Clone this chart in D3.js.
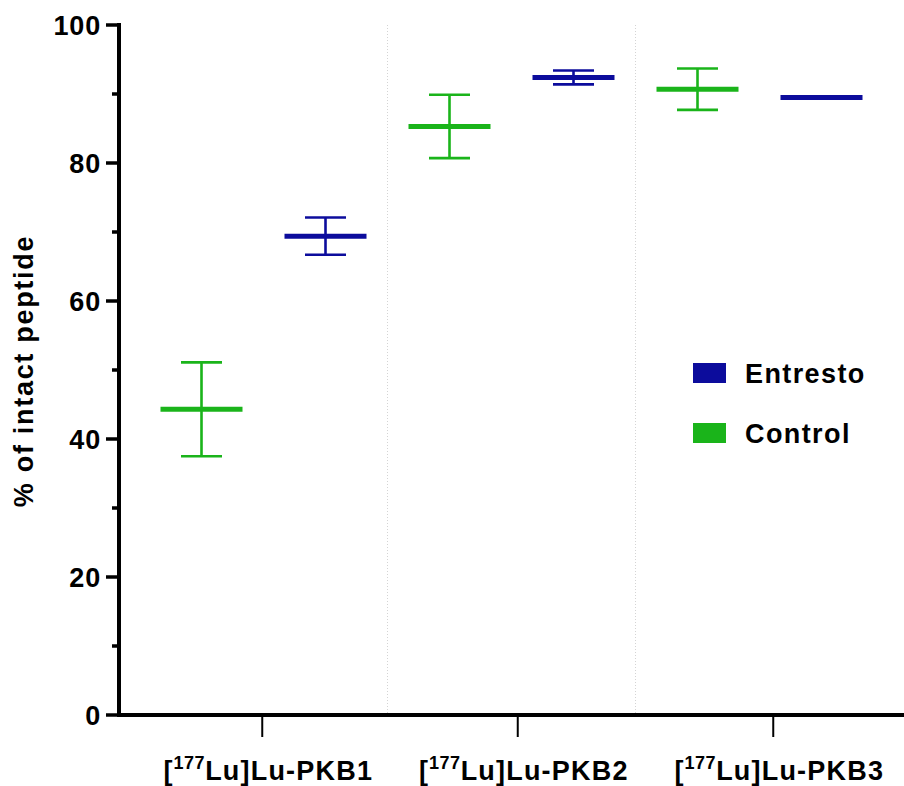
<!DOCTYPE html>
<html>
<head>
<meta charset="utf-8">
<script src="https://cdn.jsdelivr.net/npm/d3@7"></script>
<style>
  html, body { margin: 0; padding: 0; background: #fff; }
  svg { display: block; }
  text { font-family: "Liberation Sans", Arial, Helvetica, sans-serif; font-weight: bold; fill: #000; }
</style>
</head>
<body>
<svg id="chart" width="904" height="786"></svg>
<script>
// ---- data ----
const categories = ["PKB1", "PKB2", "PKB3"];
const labelPrefix = "[", labelSup = "177", labelSuffix = "Lu]Lu-";
const seriesNames = ["Control", "Entresto"];
const controlMean = [44.3, 85.3, 90.7];
const controlSD   = [6.8, 4.6, 3.0];
const entrestoMean = [69.4, 92.4, 89.5];
const entrestoSD   = [2.7, 1.0, 0];
const yTicksMajor = [0, 20, 40, 60, 80, 100];
const yTicksMinor = [10, 30, 50, 70, 90];
const legendOrder = ["Entresto", "Control"];

const colors = { Control: "#1ab41a", Entresto: "#0c0c9c" };

const svg = d3.select("#chart");

// scales
const y = d3.scaleLinear().domain([0, 100]).range([715, 25]);
const xAxisScale = d3.scaleBand().domain(categories).range([134.5, 901]);   // tick/label positions
const xGroup = d3.scaleBand().domain(categories).range([139.5, 883.5]);     // marker groups
const xSub = d3.scaleBand().domain(seriesNames).range([0, xGroup.bandwidth()]).paddingInner(0).paddingOuter(0);

const series = [
  { name: "Control", mean: controlMean, sd: controlSD },
  { name: "Entresto", mean: entrestoMean, sd: entrestoSD }
];

// separators between groups
const seps = categories.slice(1).map(c => xGroup(c));
svg.append("g").selectAll("line").data(seps).join("line")
  .attr("x1", d => d).attr("x2", d => d)
  .attr("y1", y(100)).attr("y2", y(0) - 2)
  .attr("stroke", "#d4d4d4").attr("stroke-width", 1)
  .attr("stroke-dasharray", "1,2");

// markers
const meanW = 82, capW = 41;
series.forEach(s => {
  const g = svg.append("g");
  const data = categories.map((c, i) => ({
    cx: xGroup(c) + xSub(s.name) + xSub.bandwidth() / 2,
    m: s.mean[i], sd: s.sd[i]
  }));
  const withErr = data.filter(d => d.sd > 0);
  g.selectAll(".vbar").data(withErr).join("line")
    .attr("x1", d => d.cx).attr("x2", d => d.cx)
    .attr("y1", d => y(d.m + d.sd)).attr("y2", d => y(d.m - d.sd))
    .attr("stroke", colors[s.name]).attr("stroke-width", 2.6);
  g.selectAll(".capT").data(withErr).join("line")
    .attr("x1", d => d.cx - capW / 2).attr("x2", d => d.cx + capW / 2)
    .attr("y1", d => y(d.m + d.sd)).attr("y2", d => y(d.m + d.sd))
    .attr("stroke", colors[s.name]).attr("stroke-width", 2.6);
  g.selectAll(".capB").data(withErr).join("line")
    .attr("x1", d => d.cx - capW / 2).attr("x2", d => d.cx + capW / 2)
    .attr("y1", d => y(d.m - d.sd)).attr("y2", d => y(d.m - d.sd))
    .attr("stroke", colors[s.name]).attr("stroke-width", 2.6);
  g.selectAll(".mean").data(data).join("line")
    .attr("x1", d => d.cx - meanW / 2).attr("x2", d => d.cx + meanW / 2)
    .attr("y1", d => y(d.m)).attr("y2", d => y(d.m))
    .attr("stroke", colors[s.name]).attr("stroke-width", 5);
});

// y axis
const yAxisX = 119;
const yg = svg.append("g");
yg.append("line").attr("x1", yAxisX).attr("x2", yAxisX)
  .attr("y1", y(100) - 2).attr("y2", y(0) + 2)
  .attr("stroke", "#000").attr("stroke-width", 4);
yg.selectAll(".maj").data(yTicksMajor).join("line")
  .attr("x1", yAxisX - 13).attr("x2", yAxisX)
  .attr("y1", d => y(d)).attr("y2", d => y(d))
  .attr("stroke", "#000").attr("stroke-width", 3.5);
yg.selectAll(".min").data(yTicksMinor).join("line")
  .attr("x1", yAxisX - 7).attr("x2", yAxisX)
  .attr("y1", d => y(d)).attr("y2", d => y(d))
  .attr("stroke", "#000").attr("stroke-width", 3.5);
yg.selectAll("text").data(yTicksMajor).join("text")
  .attr("x", 101).attr("y", d => y(d)).attr("dy", "0.37em")
  .attr("text-anchor", "end")
  .style("font-size", "27px").style("letter-spacing", "0.8px")
  .text(d => d);

// y title
svg.append("text")
  .attr("transform", `translate(33, ${371}) rotate(-90)`)
  .attr("text-anchor", "middle")
  .style("font-size", "27px").style("letter-spacing", "1.7px")
  .text("% of intact peptide");

// x axis
const xg = svg.append("g");
xg.append("line").attr("x1", yAxisX - 2).attr("x2", 904)
  .attr("y1", y(0)).attr("y2", y(0))
  .attr("stroke", "#000").attr("stroke-width", 4);
xg.selectAll(".xt").data(categories).join("line")
  .attr("x1", d => xAxisScale(d) + xAxisScale.bandwidth() / 2)
  .attr("x2", d => xAxisScale(d) + xAxisScale.bandwidth() / 2)
  .attr("y1", y(0)).attr("y2", y(0) + 22)
  .attr("stroke", "#000").attr("stroke-width", 2);
const xl = xg.selectAll(".xl").data(categories).join("text")
  .attr("x", d => xAxisScale(d) + xAxisScale.bandwidth() / 2 + 6)
  .attr("y", 780)
  .attr("text-anchor", "middle")
  .style("font-size", "27px").style("letter-spacing", "1.2px");
xl.append("tspan").text(labelPrefix);
xl.append("tspan").attr("dy", -11).style("font-size", "18px").style("letter-spacing", "0.5px").text(labelSup);
xl.append("tspan").attr("dy", 11).text(d => labelSuffix + d);

// legend
const lg = svg.append("g");
legendOrder.forEach((name, i) => {
  const yy = 363 + i * 60;
  lg.append("rect").attr("x", 693).attr("y", yy).attr("width", 33).attr("height", 20)
    .attr("fill", colors[name]);
  lg.append("text").attr("x", 745).attr("y", yy + 10).attr("dy", "0.36em")
    .style("font-size", "27px").style("letter-spacing", "1.4px")
    .text(name);
});
</script>
</body>
</html>
